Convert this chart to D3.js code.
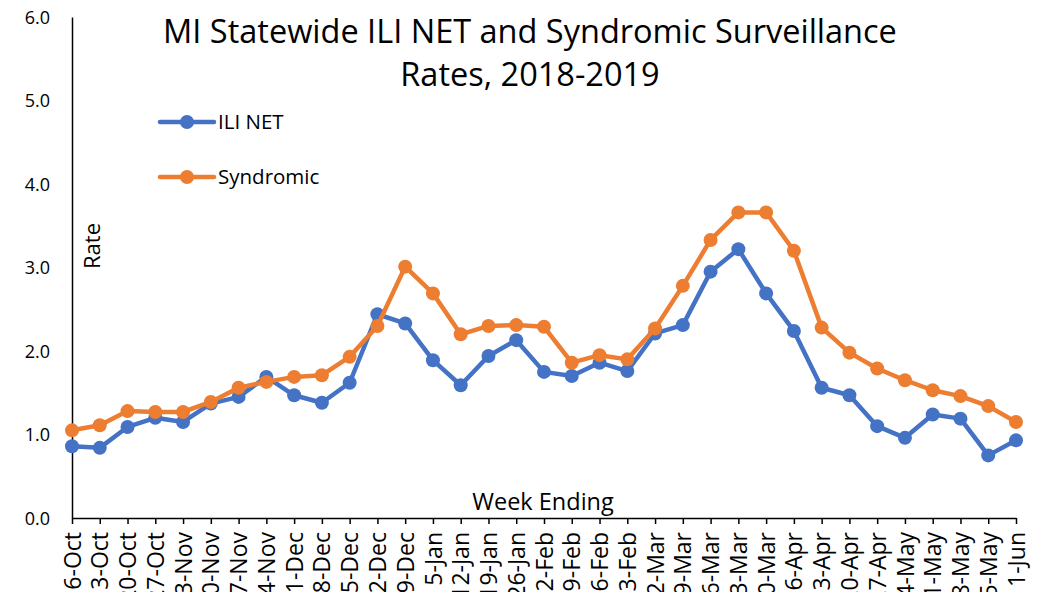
<!DOCTYPE html>
<html>
<head>
<meta charset="utf-8">
<script src="https://cdn.jsdelivr.net/npm/d3@7"></script>
<style>
  body { margin: 0; background: #fff; }
  text { font-family: "Open Sans", "Noto Sans", sans-serif; fill: #000; }
</style>
</head>
<body>
<svg id="chart" width="1039" height="592"></svg>
<script>
// data
const weeks = ["6-Oct","13-Oct","20-Oct","27-Oct","3-Nov","10-Nov","17-Nov","24-Nov",
  "1-Dec","8-Dec","15-Dec","22-Dec","29-Dec","5-Jan","12-Jan","19-Jan","26-Jan",
  "2-Feb","9-Feb","16-Feb","23-Feb","2-Mar","9-Mar","16-Mar","23-Mar","30-Mar",
  "6-Apr","13-Apr","20-Apr","27-Apr","4-May","11-May","18-May","25-May","1-Jun"];
const iliNet = [0.86,0.84,1.09,1.20,1.15,1.37,1.45,1.69,1.47,1.38,1.62,2.44,2.33,1.89,
  1.59,1.94,2.13,1.75,1.70,1.86,1.76,2.21,2.31,2.95,3.22,2.69,2.24,1.56,1.47,1.10,
  0.96,1.24,1.19,0.75,0.93];
const syndromic = [1.05,1.11,1.28,1.27,1.27,1.39,1.56,1.63,1.69,1.71,1.93,2.30,3.01,2.69,
  2.20,2.30,2.31,2.29,1.86,1.95,1.90,2.27,2.78,3.33,3.66,3.66,3.20,2.28,1.98,1.79,
  1.65,1.53,1.46,1.34,1.15];
const yTicks = [0, 1, 2, 3, 4, 5, 6];

const series = [
  { name: "ILI NET", values: iliNet, color: "#4472C4" },
  { name: "Syndromic", values: syndromic, color: "#ED7D31" }
];

const svg = d3.select("#chart");
const margin = { left: 72, right: 1016, top: 17, bottom: 518 };

const x = d3.scalePoint().domain(weeks).range([margin.left, margin.right]);
const y = d3.scaleLinear().domain([0, 6]).range([margin.bottom, margin.top]);

// y axis
const yAxis = svg.append("g")
    .attr("transform", `translate(${margin.left},0)`)
    .call(d3.axisLeft(y).tickValues(yTicks).tickSize(0).tickPadding(22)
      .tickFormat(d3.format(".1f")));
yAxis.select(".domain").attr("stroke", "#000").attr("stroke-width", 1.5);
yAxis.selectAll("text").style("font-size", "18px").attr("dy", "0.35em");

// x axis
const xAxis = svg.append("g")
    .attr("transform", `translate(0,${margin.bottom})`)
    .call(d3.axisBottom(x).tickSize(6).tickSizeOuter(0).tickPadding(4));
xAxis.select(".domain").attr("stroke", "#000").attr("stroke-width", 1.5);
xAxis.selectAll(".tick line").attr("stroke", "#000").attr("stroke-width", 1.5);
xAxis.selectAll("text")
    .style("font-size", "23px")
    .attr("text-anchor", "end")
    .attr("transform", "rotate(-90)")
    .attr("x", -14)
    .attr("y", 0)
    .attr("dy", "0.35em");

// lines + markers
const line = d3.line()
    .x((d, i) => x(weeks[i]))
    .y(d => y(d));

series.forEach(s => {
  svg.append("path")
      .datum(s.values)
      .attr("d", line)
      .attr("fill", "none")
      .attr("stroke", s.color)
      .attr("stroke-width", 4.5)
      .attr("stroke-linejoin", "round");
  svg.append("g").selectAll("circle")
    .data(s.values)
    .join("circle")
      .attr("cx", (d, i) => x(weeks[i]))
      .attr("cy", d => y(d))
      .attr("r", 7)
      .attr("fill", s.color);
});

// title
svg.append("text")
    .attr("x", 530).attr("y", 43)
    .attr("text-anchor", "middle")
    .style("font-size", "32.5px")
    .text("MI Statewide ILI NET and Syndromic Surveillance");
svg.append("text")
    .attr("x", 530).attr("y", 86)
    .attr("text-anchor", "middle")
    .style("font-size", "32.5px")
    .text("Rates, 2018-2019");

// legend
const legend = svg.append("g");
series.forEach((s, i) => {
  const ly = 122 + i * 55;
  legend.append("line")
      .attr("x1", 160).attr("x2", 214).attr("y1", ly).attr("y2", ly)
      .attr("stroke", s.color).attr("stroke-width", 4.5).attr("stroke-linecap", "round");
  legend.append("circle")
      .attr("cx", 187).attr("cy", ly).attr("r", 7).attr("fill", s.color);
  legend.append("text")
      .attr("x", 218).attr("y", ly).attr("dy", "0.35em")
      .style("font-size", "20.5px")
      .text(s.name);
});

// axis titles
svg.append("text")
    .attr("transform", "translate(100,246) rotate(-90)")
    .attr("text-anchor", "middle")
    .style("font-size", "22px")
    .text("Rate");
svg.append("text")
    .attr("x", 543).attr("y", 510)
    .attr("text-anchor", "middle")
    .style("font-size", "23.5px")
    .text("Week Ending");
</script>
</body>
</html>
